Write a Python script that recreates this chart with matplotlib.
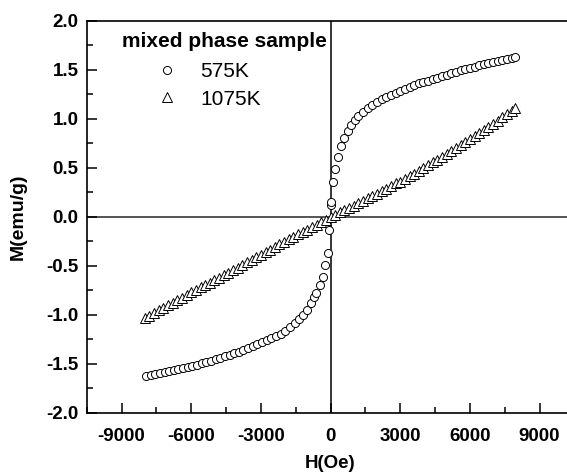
import matplotlib
matplotlib.use('Agg')
import matplotlib.pyplot as plt
from matplotlib.ticker import MultipleLocator

plt.rcParams['font.family'] = ['Liberation Sans', 'DejaVu Sans']
plt.rcParams['axes.unicode_minus'] = False

# 575K loop
h_575 = [-7950, -7750, -7550, -7350, -7150, -6950, -6750, -6550, -6350, -6150,
         -5950, -5750, -5550, -5350, -5150, -4950, -4750, -4550, -4350, -4150,
         -3950, -3750, -3550, -3350, -3150, -2950, -2750, -2550, -2350, -2150,
         -1950, -1750, -1550, -1350, -1190, -1000, -830, -700, -610, -470,
         -330, -260, -115, -70, 20, 30, 100, 200, 300, 450,
         600, 750, 900, 1050, 1200, 1400, 1600, 1800, 2000, 2200,
         2400, 2600, 2800, 3000, 3200, 3400, 3600, 3800, 4000, 4200,
         4400, 4600, 4800, 5000, 5200, 5400, 5600, 5800, 6000, 6200,
         6400, 6600, 6800, 7000, 7200, 7400, 7600, 7800, 7950]
m_575 = [-1.62, -1.61, -1.60, -1.59, -1.58, -1.57, -1.56, -1.55, -1.54, -1.53,
         -1.52, -1.51, -1.49, -1.48, -1.47, -1.45, -1.44, -1.42, -1.41, -1.39,
         -1.38, -1.36, -1.34, -1.32, -1.30, -1.28, -1.26, -1.24, -1.22, -1.19,
         -1.16, -1.12, -1.08, -1.04, -1.00, -0.95, -0.88, -0.82, -0.78, -0.70,
         -0.61, -0.49, -0.37, -0.13, 0.12, 0.15, 0.36, 0.49, 0.61, 0.72,
         0.80, 0.88, 0.94, 0.99, 1.03, 1.07, 1.11, 1.14, 1.17, 1.20,
         1.22, 1.24, 1.26, 1.28, 1.30, 1.32, 1.34, 1.36, 1.37, 1.39,
         1.41, 1.42, 1.44, 1.45, 1.47, 1.48, 1.50, 1.51, 1.52, 1.53,
         1.55, 1.56, 1.57, 1.58, 1.59, 1.60, 1.61, 1.62, 1.63]

# 1075K loop
h_1075 = [-8000, -7800, -7600, -7400, -7200, -7000, -6800, -6600, -6400, -6200,
          -6000, -5800, -5600, -5400, -5200, -5000, -4800, -4600, -4400, -4200,
          -4000, -3800, -3600, -3400, -3200, -3000, -2800, -2600, -2400, -2200,
          -2000, -1800, -1600, -1400, -1200, -1000, -800, -600, -400, -200,
          0, 200, 400, 600, 800, 1000, 1200, 1400, 1600, 1800,
          2000, 2200, 2400, 2600, 2800, 3000, 3200, 3400, 3600, 3800,
          4000, 4200, 4400, 4600, 4800, 5000, 5200, 5400, 5600, 5800,
          6000, 6200, 6400, 6600, 6800, 7000, 7200, 7400, 7600, 7800, 7950]
m_1075 = [-1.03, -1.01, -0.98, -0.955, -0.93, -0.90, -0.88, -0.85, -0.83, -0.80,
          -0.77, -0.75, -0.72, -0.70, -0.67, -0.645, -0.62, -0.59, -0.57, -0.54,
          -0.52, -0.49, -0.46, -0.44, -0.41, -0.39, -0.36, -0.335, -0.31, -0.28,
          -0.26, -0.23, -0.21, -0.18, -0.155, -0.13, -0.10, -0.08, -0.05, -0.03,
          0.0, 0.02, 0.045, 0.07, 0.09, 0.11, 0.14, 0.16, 0.19, 0.21,
          0.235, 0.26, 0.285, 0.31, 0.34, 0.36, 0.39, 0.42, 0.44, 0.47,
          0.50, 0.53, 0.56, 0.58, 0.61, 0.64, 0.67, 0.70, 0.73, 0.76,
          0.79, 0.82, 0.86, 0.89, 0.92, 0.95, 0.98, 1.02, 1.05, 1.08, 1.11]

fig = plt.figure(figsize=(5.67, 4.76), dpi=100)
ax = fig.add_axes([0.153, 0.1324, 0.860, 0.8241])

ax.axhline(0, color='#555555', lw=1.4, zorder=1)
ax.axvline(0, color='black', lw=1.1, zorder=1)

ax.plot(h_575, m_575, ls='none', marker='o', ms=5.8, mfc='white', mec='black',
        mew=0.7, label='575K', zorder=3)
ax.plot(h_1075, m_1075, ls='none', marker='^', ms=7, mfc='white', mec='black',
        mew=0.7, label='1075K', zorder=2)

ax.set_xlim(-10500, 10500)
ax.set_ylim(-2.0, 2.0)
ax.xaxis.set_major_locator(MultipleLocator(3000))
ax.xaxis.set_minor_locator(MultipleLocator(1500))
ax.yaxis.set_major_locator(MultipleLocator(0.5))
ax.yaxis.set_minor_locator(MultipleLocator(0.25))
ax.tick_params(which='both', direction='in', top=False, right=False, width=1.1)
ax.tick_params(which='major', length=7, labelsize=13.5)
ax.tick_params(which='minor', length=4)
ax.tick_params(axis='x', which='major', pad=11)
ax.tick_params(axis='y', which='major', pad=6)
ax.set_yticks([-2.0, -1.5, -1.0, -0.5, 0.0, 0.5, 1.0, 1.5, 2.0])
ax.set_yticklabels(['%.1f' % v for v in ax.get_yticks()])
ax.set_xticks([-9000, -6000, -3000, 0, 3000, 6000, 9000])
for lab in ax.get_xticklabels() + ax.get_yticklabels():
    lab.set_fontweight('bold')
for sp in ax.spines.values():
    sp.set_linewidth(1.2)

ax.set_xlabel('H(Oe)', fontsize=13.5, fontweight='bold', labelpad=7)
ax.set_ylabel('M(emu/g)', fontsize=14, fontweight='bold', labelpad=14)

ax.text(0.0724, 0.9465, 'mixed phase sample', transform=ax.transAxes,
        fontsize=15, fontweight='bold', va='center', ha='left')
ax.legend(loc='upper left', bbox_to_anchor=(0.1476, 0.895), frameon=False,
          borderpad=0, borderaxespad=0, handlelength=0.8, handletextpad=1.2,
          labelspacing=0.42, fontsize=15)

fig.savefig('out.png', dpi=100)
